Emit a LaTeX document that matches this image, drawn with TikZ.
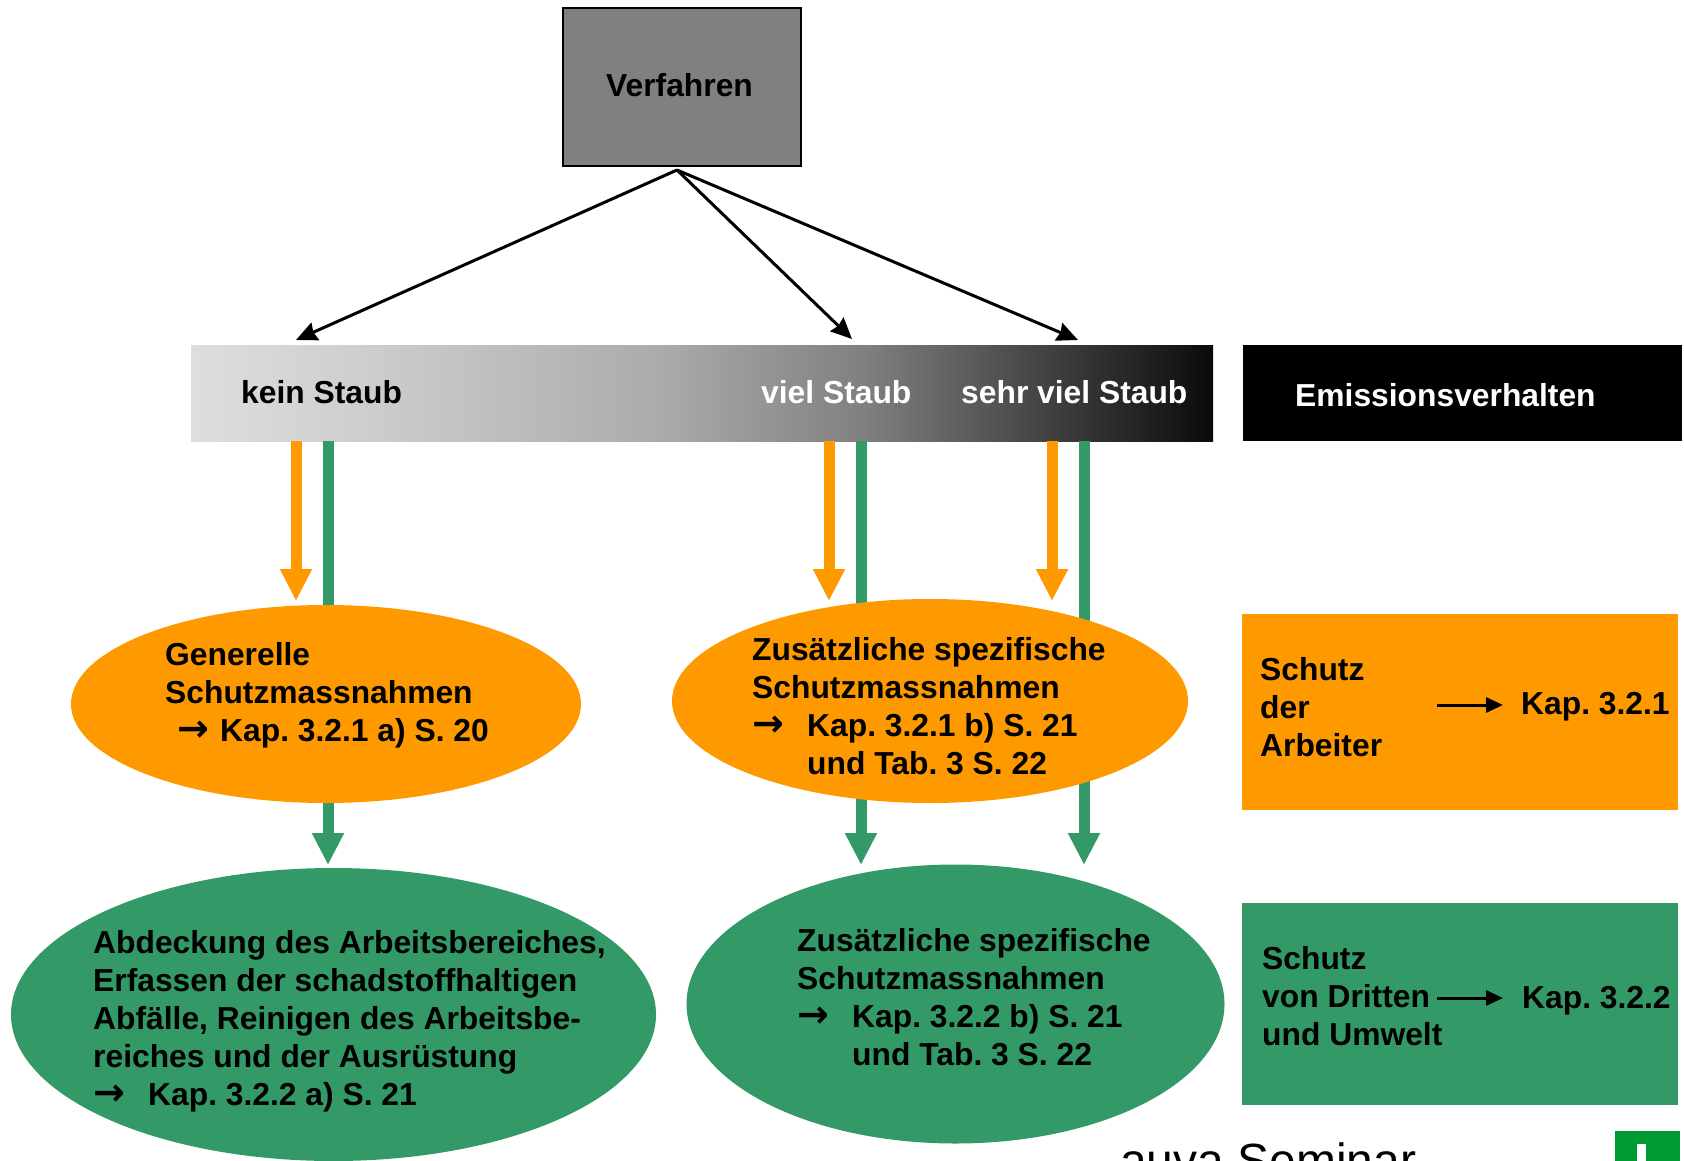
\documentclass[tikz,border=0pt]{standalone}
\usepackage{fontspec}
\setmainfont{Liberation Sans}
\newfontfamily\arrowfont{DejaVu Sans}
\usepackage{tikz}
\usetikzlibrary{arrows.meta,shapes.geometric}

\definecolor{schutzorange}{HTML}{FF9900}
\definecolor{schutzgreen}{HTML}{339966}
\definecolor{logogreen}{HTML}{009933}

\pgfdeclarehorizontalshading{staubfade}{100bp}{
  color(0bp)=(black!13);
  color(25bp)=(black!13);
  color(33bp)=(black!19);
  color(48bp)=(black!33);
  color(58bp)=(black!50);
  color(66bp)=(black!72);
  color(75bp)=(black!96);
  color(100bp)=(black!96)}

\tikzset{
  label/.style={font=\fontsize{31.8}{38}\selectfont\bfseries\frenchspacing, align=left, anchor=west, inner sep=0pt},
  oval/.style={ellipse, inner sep=0pt},
  panel/.style={rectangle, inner sep=0pt},
  thinarrow/.style={line width=3pt, -{Stealth[length=21pt,width=19pt,inset=2pt]}},
  kaparrow/.style={line width=3pt, -{Triangle[length=17pt,width=15pt]}},
  orangearrow/.style={schutzorange, line width=11pt, -{Triangle[length=32pt,width=30pt]}},
  greenarrow/.style={schutzgreen, line width=11pt, -{Triangle[length=32pt,width=30pt]}},
}

\newcommand{\arrowgap}[1]{\makebox[#1pt][l]{\arrowfont\fontsize{38}{38}\selectfont →}}

\begin{document}
\begin{tikzpicture}[x=1pt, y=-1pt]
  \useasboundingbox (0,0) rectangle (1684,1161);

  \node[panel, draw=black, line width=2.5pt, fill=black!50, minimum width=238pt, minimum height=158pt] (verfahren) at (682,87) {};
  \node[panel, shading=staubfade, minimum width=1022pt, minimum height=96pt] (staub) at (702,393) {};
  \node[panel, fill=black, minimum width=439pt, minimum height=96pt] (emission) at (1462.5,393) {};

  \coordinate (apex) at (677,170);
  \coordinate (kein) at (296,340);
  \coordinate (viel) at (852,339);
  \coordinate (sehr) at (1078,340);
  \draw[thinarrow] (apex) -- (kein);
  \draw[thinarrow] (apex) -- (viel);
  \draw[thinarrow] (apex) -- (sehr);

  \coordinate (g1a) at (328,441);
  \coordinate (g1b) at (328,865);
  \coordinate (g2a) at (861,441);
  \coordinate (g2b) at (861,865);
  \coordinate (g3a) at (1084,441);
  \coordinate (g3b) at (1084,865);
  \draw[greenarrow] (g1a) -- (g1b);
  \draw[greenarrow] (g2a) -- (g2b);
  \draw[greenarrow] (g3a) -- (g3b);

  \node[oval, fill=schutzorange, minimum width=510pt, minimum height=198pt] (generell) at (326,704) {};
  \node[oval, fill=schutzorange, minimum width=516pt, minimum height=204pt] (zusatz1) at (930,701) {};
  \node[oval, fill=schutzgreen, minimum width=645pt, minimum height=293pt] (abdeckung) at (333.5,1014.5) {};
  \node[oval, fill=schutzgreen, minimum width=538pt, minimum height=279pt] (zusatz2) at (955.5,1004) {};

  \coordinate (o1a) at (296,441);
  \coordinate (o1b) at (296,601);
  \coordinate (o2a) at (829,441);
  \coordinate (o2b) at (829,601);
  \coordinate (o3a) at (1052,441);
  \coordinate (o3b) at (1052,601);
  \draw[orangearrow] (o1a) -- (o1b);
  \draw[orangearrow] (o2a) -- (o2b);
  \draw[orangearrow] (o3a) -- (o3b);

  \node[panel, fill=schutzorange, minimum width=436pt, minimum height=196pt] (arbeiter) at (1460,712) {};
  \node[panel, fill=schutzgreen, minimum width=436pt, minimum height=202pt] (umwelt) at (1460,1004) {};

  \node[label] (tverfahren) at (606,85) {Verfahren};
  \node[label] (tkein) at (241,392) {kein Staub};
  \node[label, white] (tviel) at (761,392) {viel Staub};
  \node[label, white] (tsehr) at (961,392) {sehr viel Staub};
  \node[label, white] (temission) at (1295,395) {Emissionsverhalten};

  \node[label] (tgenerell) at (165,695) {Generelle\\Schutzmassnahmen\\\hspace*{12pt}\arrowgap{43}Kap. 3.2.1 a) S. 20};
  \node[label] (tzusatz1) at (752,706) {Zusätzliche spezifische\\Schutzmassnahmen\\\arrowgap{55}Kap. 3.2.1 b) S. 21\\\hspace*{55pt}und Tab. 3 S. 22};
  \node[label] (tabdeckung) at (93,1021) {Abdeckung des Arbeitsbereiches,\\Erfassen der schadstoffhaltigen\\Abfälle, Reinigen des Arbeitsbe-\\reiches und der Ausrüstung\\\arrowgap{55}Kap. 3.2.2 a) S. 21};
  \node[label] (tzusatz2) at (797,997) {Zusätzliche spezifische\\Schutzmassnahmen\\\arrowgap{55}Kap. 3.2.2 b) S. 21\\\hspace*{55pt}und Tab. 3 S. 22};

  \node[label] (tarbeiter) at (1260,707) {Schutz\\der\\Arbeiter};
  \node[label] (tumwelt) at (1262,996) {Schutz\\von Dritten\\und Umwelt};
  \node[label] (kap1) at (1521,707) {Kap. 3.2.1};
  \node[label] (kap2) at (1522,1001) {Kap. 3.2.2};
  \coordinate (s1) at (1437,705);
  \coordinate (s2) at (1437,998);
  \coordinate (s1b) at (1503,705);
  \coordinate (s2b) at (1503,998);
  \draw[kaparrow] (s1) -- (s1b);
  \draw[kaparrow] (s2) -- (s2b);

  \node[font=\fontsize{48}{48}\selectfont, anchor=base west, inner sep=0pt] (seminar) at (1120,1177) {auva Seminar};
  \node[panel, fill=logogreen, minimum width=65pt, minimum height=60pt] (logo) at (1647.5,1161) {};
  \node[panel, fill=white, minimum width=9pt, minimum height=34pt] (logobar) at (1641.5,1161) {};
\end{tikzpicture}
\end{document}
